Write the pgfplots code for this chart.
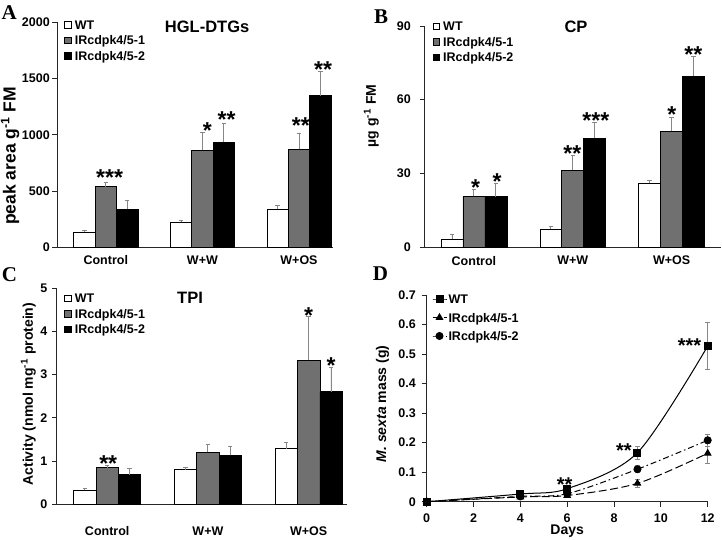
\documentclass[border=0pt]{standalone}
\usepackage{fontspec}
\setmainfont{Liberation Sans}
\newfontfamily\letterfont{Liberation Serif}
\usepackage{pgfplots}
\usepackage{pgfplotstable}
\pgfplotsset{compat=1.18}
\definecolor{barg}{RGB}{112,112,112}
\definecolor{errg}{RGB}{135,135,135}
\newcommand{\tk}{\fontsize{12.5}{14}\selectfont\bfseries}
\newcommand{\lb}{\fontsize{14}{16}\selectfont\bfseries}
\newcommand{\ttl}{\fontsize{16.5}{18}\selectfont\bfseries}
\newcommand{\st}{\fontsize{23}{23}\selectfont\bfseries}
\newcommand{\stD}{\fontsize{20}{20}\selectfont\bfseries}

\pgfplotstableread{
x wt wte ir1 ir1e ir2 ir2e
0 133 15 538 36 340 75
1 222 20 862 155 933 172
2 338 35 871 140 1348 213
}\dataA
\pgfplotstableread{
x wt wte ir1 ir1e ir2 ir2e
0 3.3 1.9 20.6 3.0 20.5 5.4
1 7.3 1.0 31.2 6.0 44.3 6.5
2 25.9 1.1 47.1 5.8 69.6 7.9
}\dataB
\pgfplotstableread{
x wt wte ir1 ir1e ir2 ir2e
0 0.32 0.05 0.85 0.05 0.685 0.15
1 0.80 0.06 1.20 0.19 1.13 0.20
2 1.29 0.15 3.33 1.02 2.61 0.56
}\dataC
\pgfplotstableread{
day wt wte ir1 ir1e ir2 ir2e
0 0 0 0 0 0 0
4 0.026 0.004 0.016 0.003 0.018 0.003
6 0.044 0.006 0.021 0.004 0.027 0.005
9 0.166 0.022 0.062 0.014 0.110 0.012
12 0.527 0.080 0.164 0.034 0.208 0.020
}\dataD

\tikzset{
  starnode/.style={font=\st, inner sep=0pt, anchor=base, yshift=-8.8pt},
  starnodeD/.style={font=\stD, inner sep=0pt, anchor=base, yshift=-7.7pt},
  letter/.style={font=\fontsize{21}{21}\selectfont\letterfont\bfseries, inner sep=0pt, anchor=base west},
}

\pgfplotsset{
  panel/.style={
    scale only axis, clip=false,
    axis x line=bottom, axis y line=left,
    axis line style={-, line width=0.8pt, black!85},
    tick style={line width=0.8pt, black!85},
    tick align=outside, major tick length=5pt,
    /pgf/number format/assume math mode=true,
    /pgf/number format/1000 sep={},
    scaled y ticks=false,
    ticklabel style={font=\tk, inner sep=0pt},
    ylabel style={font=\lb, inner sep=0pt, anchor=center},
    title style={font=\ttl, inner sep=0pt, anchor=center},
    legend cell align=left,
    legend style={draw=none, fill=none, inner sep=0pt, outer sep=0pt, anchor=north west, font=\tk,
      nodes={inner sep=0pt, text height=9pt, text depth=3pt},
      /tikz/every odd column/.append style={column sep=3.5pt}},
  },
  barpanel/.style={panel, ymin=0, xmin=-0.5, xtick={0,1,2},
    xticklabels={Control,W+W,W+OS}, xtick style={draw=none}},
  sq/.style={legend image code/.code={\draw[##1, line width=0.6pt] (0pt,-1.7pt) rectangle (6.4pt,4.7pt);}},
  bars/.style={ybar, bar width=0.222, bar shift=0, draw=black, line width=0.6pt, sq,
    error bars/y dir=plus, error bars/y explicit,
    error bars/error bar style={errg, line width=0.9pt},
    error bars/error mark options={rotate=90, errg, mark size=2.2pt, line width=0.9pt}},
  lineplot/.style={line width=1pt, black, smooth, mark options={solid, fill=black},
    error bars/y dir=both, error bars/y explicit,
    error bars/error bar style={errg, line width=0.9pt, solid},
    error bars/error mark options={rotate=90, errg, mark size=2.5pt, line width=0.9pt, solid}},
}

\begin{document}
\begin{tikzpicture}
\path[use as bounding box] (0,0) rectangle (722pt,540pt);

% ---------------- A ----------------
\begin{axis}[barpanel, at={(57.5pt,292.7pt)}, anchor=south west, width=275.5pt, height=225pt,
  xmax=2.352, ymax=2000, ytick={0,500,1000,1500,2000},
  yticklabel style={xshift=-2.5pt}, xticklabel style={yshift=-3pt},
  ylabel={peak area g\textsuperscript{-1} FM},
  ylabel style={at={(axis description cs:-0.172,0.406)}, font=\fontsize{17.5}{19}\selectfont\bfseries},
  title={HGL-DTGs}, title style={at={(axis description cs:0.543,0.951)}},
  legend style={at={(axis description cs:0,1)}, xshift=6.8pt, yshift=1.8pt, row sep=3.5pt}]
\addplot[bars, fill=white] table[x expr=\thisrow{x}-0.222,y=wt,y error=wte]{\dataA};
\addplot[bars, fill=barg] table[x=x,y=ir1,y error=ir1e]{\dataA};
\addplot[bars, fill=black] table[x expr=\thisrow{x}+0.222,y=ir2,y error=ir2e]{\dataA};
\legend{WT,IRcdpk4/5-1,IRcdpk4/5-2}
\node[starnode] at (axis cs:0.04,628) {***};
\node[starnode] at (axis cs:1.05,1043) {*};
\node[starnode] at (axis cs:1.25,1147) {**};
\node[starnode] at (axis cs:2.02,1087) {**};
\node[starnode] at (axis cs:2.25,1591) {**};
\end{axis}

% ---------------- B ----------------
\begin{axis}[barpanel, at={(424.5pt,293pt)}, anchor=south west, width=296.5pt, height=221pt,
  xmax=2.5, ymax=90, ytick={0,30,60,90},
  yticklabel style={xshift=-8.5pt}, xticklabel style={yshift=-4pt},
  ylabel={µg g\textsuperscript{-1} FM},
  ylabel style={at={(axis description cs:-0.179,0.593)}},
  title={CP}, title style={at={(axis description cs:0.511,0.968)}},
  legend style={at={(axis description cs:0,1)}, xshift=8.2pt, yshift=4.5pt, row sep=3.6pt}]
\addplot[bars, fill=white] table[x expr=\thisrow{x}-0.222,y=wt,y error=wte]{\dataB};
\addplot[bars, fill=barg] table[x=x,y=ir1,y error=ir1e]{\dataB};
\addplot[bars, fill=black] table[x expr=\thisrow{x}+0.222,y=ir2,y error=ir2e]{\dataB};
\legend{WT,IRcdpk4/5-1,IRcdpk4/5-2}
\node[starnode] at (axis cs:0.016,24.6) {*};
\node[starnode] at (axis cs:0.234,27.0) {*};
\node[starnode] at (axis cs:0.996,38.2) {**};
\node[starnode] at (axis cs:1.234,52.0) {***};
\node[starnode] at (axis cs:2.002,54.4) {*};
\node[starnode] at (axis cs:2.221,78.9) {**};
\end{axis}

% ---------------- C ----------------
\begin{axis}[barpanel, at={(56.85pt,35.7pt)}, anchor=south west, width=290.15pt, height=216pt,
  xmax=2.381, ymax=5, ytick={0,1,2,3,4,5},
  yticklabel style={xshift=-4.3pt}, xticklabel style={yshift=-17pt},
  ylabel={Activity (nmol mg\textsuperscript{-1} protein)},
  ylabel style={at={(axis description cs:-0.098,0.51)}},
  title={TPI}, title style={at={(axis description cs:0.459,0.927)}},
  legend style={at={(axis description cs:0,1)}, xshift=7.5pt, yshift=-5.5pt, row sep=3.5pt}]
\addplot[bars, fill=white] table[x expr=\thisrow{x}-0.222,y=wt,y error=wte]{\dataC};
\addplot[bars, fill=barg] table[x=x,y=ir1,y error=ir1e]{\dataC};
\addplot[bars, fill=black] table[x expr=\thisrow{x}+0.222,y=ir2,y error=ir2e]{\dataC};
\legend{WT,IRcdpk4/5-1,IRcdpk4/5-2}
\node[starnode] at (axis cs:0.01,0.97) {**};
\node[starnode] at (axis cs:2.0,4.40) {*};
\node[starnode] at (axis cs:2.222,3.22) {*};
\end{axis}

% ---------------- D ----------------
\begin{axis}[panel, at={(426.7pt,38.3pt)}, anchor=south west, width=281pt, height=206.7pt,
  xmin=0, xmax=12, ymin=0, ymax=0.7, xtick={0,2,4,6,8,10,12},
  ytick={0,0.1,0.2,0.3,0.4,0.5,0.6,0.7},
  yticklabel style={xshift=-5.7pt, /pgf/number format/fixed, /pgf/number format/precision=1},
  xticklabel style={yshift=-6.6pt},
  xlabel={Days}, xlabel style={font=\lb, inner sep=0pt, at={(axis description cs:0.5,0)}, anchor=north, yshift=-23pt},
  ylabel={\textit{M. sexta} mass (g)},
  ylabel style={at={(axis description cs:-0.157,0.473)}},
  legend style={at={(axis description cs:0,1)}, xshift=5.3pt, yshift=0.5pt, row sep=6.5pt,
    /tikz/every odd column/.append style={column sep=1.5pt}},
  legend image code/.code={\draw[#1, mark repeat=2, mark phase=2] plot coordinates {(0pt,1.5pt) (7pt,1.5pt) (14pt,1.5pt)};}]
\addplot[lineplot, mark=square*, mark size=3.5pt] table[x=day,y=wt,y error=wte]{\dataD};
\addplot[lineplot, dash pattern=on 8pt off 3.5pt, mark=triangle*, mark size=3.6pt] table[x=day,y=ir1,y error=ir1e]{\dataD};
\addplot[lineplot, dash pattern=on 6pt off 3pt on 1.5pt off 3pt, mark=*, mark size=3.5pt] table[x=day,y=ir2,y error=ir2e]{\dataD};
\legend{WT,IRcdpk4/5-1,IRcdpk4/5-2}
\node[starnodeD] at (axis cs:5.89,0.062) {**};
\node[starnodeD] at (axis cs:8.42,0.175) {**};
\node[starnodeD] at (axis cs:11.22,0.531) {***};
\end{axis}

\node[letter] at (1.5pt,520pt) {A};
\node[letter] at (374pt,516.7pt) {B};
\node[letter] at (1.7pt,258pt) {C};
\node[letter] at (372.7pt,259pt) {D};
\end{tikzpicture}
\end{document}
